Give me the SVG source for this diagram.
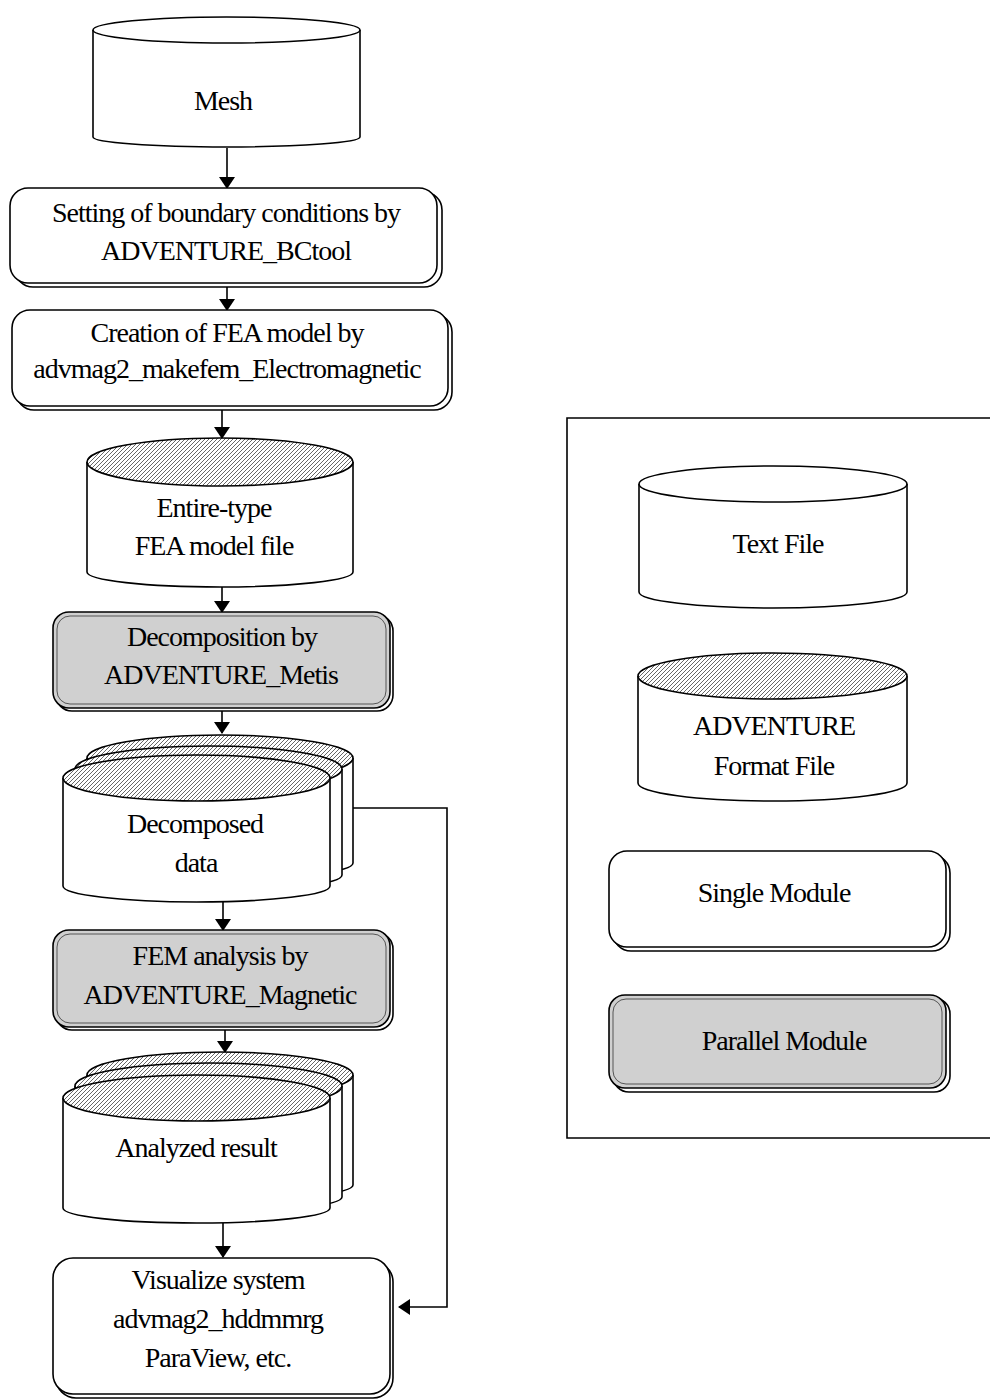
<svg xmlns="http://www.w3.org/2000/svg" width="990" height="1400" viewBox="0 0 990 1400">
<style>
.t{font-family:"Liberation Serif","Times New Roman",serif;font-size:28px;letter-spacing:-1px;fill:#000;text-anchor:middle}
.s{fill:#fff;stroke:#000;stroke-width:1.6}
.g{fill:#d0d0d0;stroke:#000;stroke-width:1.6}
.gi{fill:none;stroke:#555;stroke-width:1}
.h{fill:url(#hatch);stroke:#000;stroke-width:1.6}
.c{fill:none;stroke:#000;stroke-width:1.6}
</style>
<defs>
<pattern id="hatch" patternUnits="userSpaceOnUse" width="4" height="4">
<rect width="4" height="4" fill="#fff"/>
<path d="M-1,1 L1,-1 M0,4 L4,0 M3,5 L5,3" stroke="#000" stroke-width="0.6"/>
</pattern>
<marker id="ah" markerWidth="12" markerHeight="16" refX="11" refY="8" orient="auto" markerUnits="userSpaceOnUse">
<path d="M0,0 L12,8 L0,16 Z" fill="#000"/>
</marker>
</defs>

<g id="connectors">
<line class="c" x1="227" y1="148" x2="227" y2="188" marker-end="url(#ah)"/>
<line class="c" x1="227" y1="287" x2="227" y2="310" marker-end="url(#ah)"/>
<line class="c" x1="222" y1="410" x2="222" y2="438" marker-end="url(#ah)"/>
<line class="c" x1="222" y1="587" x2="222" y2="612" marker-end="url(#ah)"/>
<line class="c" x1="222" y1="711" x2="222" y2="733" marker-end="url(#ah)"/>
<line class="c" x1="223" y1="902" x2="223" y2="930" marker-end="url(#ah)"/>
<line class="c" x1="225" y1="1030" x2="225" y2="1052" marker-end="url(#ah)"/>
<line class="c" x1="223" y1="1223" x2="223" y2="1257" marker-end="url(#ah)"/>
<polyline class="c" points="353,808 447,808 447,1307 399,1307" marker-end="url(#ah)"/>
</g>

<g id="mesh">
<path class="s" d="M93,30 V137 A133.5,10 0 0 0 360,137 V30"/>
<ellipse class="s" cx="226.5" cy="30" rx="133.5" ry="13"/>
<text class="t" x="223" y="110">Mesh</text>
</g>

<g id="bctool">
<rect class="s" x="15" y="192" width="427" height="95" rx="18"/>
<rect class="s" x="10" y="188" width="427" height="95" rx="18"/>
<text class="t" x="226" y="222">Setting of boundary conditions by</text>
<text class="t" x="226" y="260">ADVENTURE_BCtool</text>
</g>

<g id="makefem">
<rect class="s" x="16" y="314" width="436" height="96" rx="18"/>
<rect class="s" x="12" y="310" width="436" height="96" rx="18"/>
<text class="t" x="227" y="342">Creation of FEA model by</text>
<text class="t" x="227" y="378">advmag2_makefem_Electromagnetic</text>
</g>

<g id="entire">
<path class="s" d="M87,462 V572 A133,15 0 0 0 353,572 V462"/>
<ellipse class="h" cx="220" cy="462" rx="133" ry="24"/>
<text class="t" x="214" y="517">Entire-type</text>
<text class="t" x="214" y="555">FEA model file</text>
</g>

<g id="metis">
<rect class="s" x="56" y="615" width="337" height="96" rx="16"/>
<rect class="g" x="53" y="612" width="337" height="96" rx="16"/>
<rect class="gi" x="57" y="616" width="329" height="88" rx="13"/>
<text class="t" x="222" y="646">Decomposition by</text>
<text class="t" x="221" y="684">ADVENTURE_Metis</text>
</g>

<g id="decomposed">
<path class="s" d="M87,758 V863 A133,16 0 0 0 353,863 V758"/>
<ellipse class="h" cx="220" cy="758" rx="133" ry="23"/>
<path class="s" d="M75,769 V875 A133.5,16 0 0 0 342,875 V769"/>
<ellipse class="h" cx="208.5" cy="769" rx="133.5" ry="23"/>
<path class="s" d="M63,778 V886 A133.5,16 0 0 0 330,886 V778"/>
<ellipse class="h" cx="196.5" cy="778" rx="133.5" ry="23"/>
<text class="t" x="195" y="833">Decomposed</text>
<text class="t" x="196" y="872">data</text>
</g>

<g id="magnetic">
<rect class="s" x="56" y="933" width="337" height="97" rx="16"/>
<rect class="g" x="53" y="930" width="337" height="97" rx="16"/>
<rect class="gi" x="57" y="934" width="329" height="89" rx="13"/>
<text class="t" x="220" y="965">FEM analysis by</text>
<text class="t" x="220" y="1004">ADVENTURE_Magnetic</text>
</g>

<g id="analyzed">
<path class="s" d="M87,1075 V1185 A133,15 0 0 0 353,1185 V1075"/>
<ellipse class="h" cx="220" cy="1075" rx="133" ry="23"/>
<path class="s" d="M75,1086 V1197 A133.5,15 0 0 0 342,1197 V1086"/>
<ellipse class="h" cx="208.5" cy="1086" rx="133.5" ry="23"/>
<path class="s" d="M63,1098 V1208 A133.5,15 0 0 0 330,1208 V1098"/>
<ellipse class="h" cx="196.5" cy="1098" rx="133.5" ry="23"/>
<text class="t" x="196" y="1157">Analyzed result</text>
</g>

<g id="visualize">
<rect class="s" x="56" y="1262" width="337" height="136" rx="20"/>
<rect class="s" x="53" y="1258" width="337" height="136" rx="20"/>
<text class="t" x="218" y="1289">Visualize system</text>
<text class="t" x="218" y="1328">advmag2_hddmmrg</text>
<text class="t" x="218" y="1367">ParaView, etc.</text>
</g>

<g id="legend">
<path class="c" d="M992,418 H567 V1138 H992"/>
</g>

<g id="legend-text-file">
<path class="s" d="M639,484 V592 A134,16 0 0 0 907,592 V484"/>
<ellipse class="s" cx="773" cy="484" rx="134" ry="18"/>
<text class="t" x="778" y="553">Text File</text>
</g>

<g id="legend-adventure-file">
<path class="s" d="M638,676 V783 A134.5,18 0 0 0 907,783 V676"/>
<ellipse class="h" cx="772.5" cy="676" rx="134.5" ry="23"/>
<text class="t" x="774" y="735">ADVENTURE</text>
<text class="t" x="774" y="775">Format File</text>
</g>

<g id="legend-single">
<rect class="s" x="613" y="855" width="337" height="96" rx="18"/>
<rect class="s" x="609" y="851" width="337" height="96" rx="18"/>
<text class="t" x="774" y="902">Single Module</text>
</g>

<g id="legend-parallel">
<rect class="s" x="613" y="998" width="337" height="94" rx="16"/>
<rect class="g" x="609" y="995" width="337" height="93" rx="16"/>
<rect class="gi" x="613" y="999" width="329" height="85" rx="13"/>
<text class="t" x="784" y="1050">Parallel Module</text>
</g>
</svg>
